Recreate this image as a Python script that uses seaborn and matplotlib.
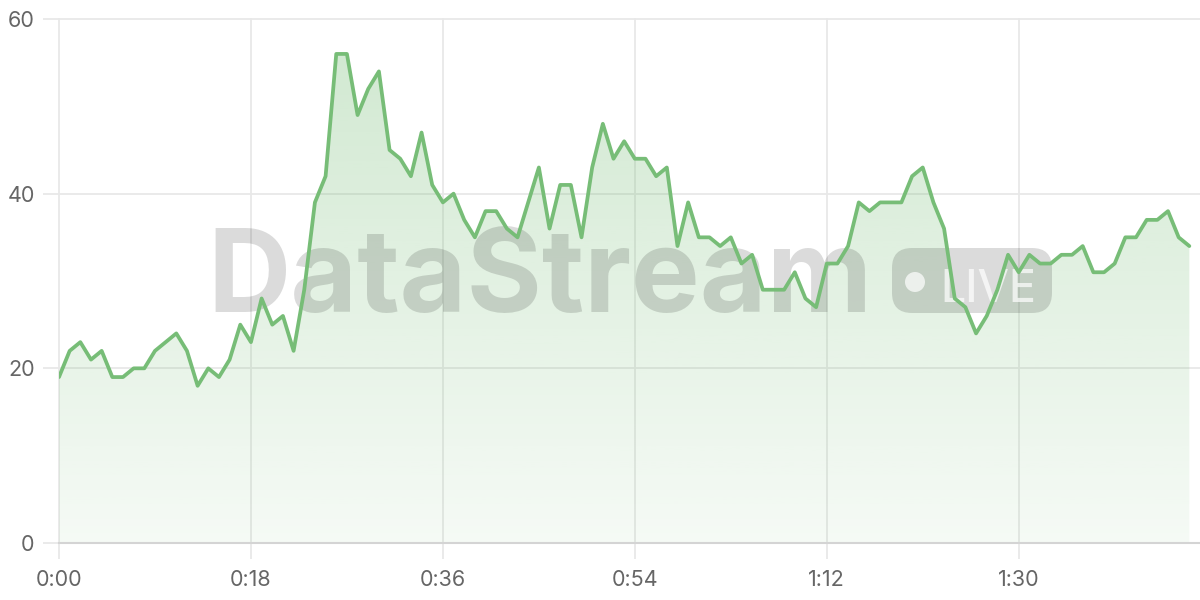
import numpy as np
import pandas as pd
import matplotlib.pyplot as plt
import seaborn as sns
from matplotlib.patches import FancyBboxPatch, Circle
from matplotlib.colors import to_rgb
from matplotlib.ticker import FuncFormatter

# viewers per second of the stream
seconds = list(range(107))
viewers = [19, 22, 23, 21, 22, 19, 19, 20, 20, 22,
           23, 24, 22, 18, 20, 19, 21, 25, 23, 28,
           25, 26, 22, 29, 39, 42, 56, 56, 49, 52,
           54, 45, 44, 42, 47, 41, 39, 40, 37, 35,
           38, 38, 36, 35, 39, 43, 36, 41, 41, 35,
           43, 48, 44, 46, 44, 44, 42, 43, 34, 39,
           35, 35, 34, 35, 32, 33, 29, 29, 29, 31,
           28, 27, 32, 32, 34, 39, 38, 39, 39, 39,
           42, 43, 39, 36, 28, 27, 24, 26, 29, 33,
           31, 33, 32, 32, 33, 33, 34, 31, 31, 32,
           35, 35, 37, 37, 38, 35, 34]
x_ticks = [0, 18, 36, 54, 72, 90]
y_ticks = [0, 20, 40, 60]

df = pd.DataFrame({'sec': seconds, 'viewers': viewers})
green = '#77bd77'

sns.set_theme(style='white')
plt.rcParams['font.family'] = ['Inter', 'DejaVu Sans']

fig = plt.figure(figsize=(12, 6), dpi=100)
ax = fig.add_axes([59/1200, 57/600, 1141/1200, 524/600])

# gradient area under the line
area = ax.fill_between(df.sec, df.viewers, 0, color='none', lw=0)
rgba = np.zeros((256, 1, 4))
rgba[..., :3] = to_rgb(green)
rgba[..., 3] = np.linspace(0.35, 0.07, 256).reshape(-1, 1)
img = ax.imshow(rgba, extent=[0, 107, 0, 60], aspect='auto', origin='upper', zorder=1)
img.set_clip_path(area.get_paths()[0], transform=ax.transData)

sns.lineplot(data=df, x='sec', y='viewers', color=green, lw=2.7, ax=ax, zorder=3)

# watermark
ax.text(2.07, 6 - 3.12, 'DataStream', transform=fig.dpi_scale_trans,
        fontsize=83, fontweight='bold', color='black', alpha=0.14,
        ha='left', va='baseline', zorder=2)
badge = FancyBboxPatch((8.92, 2.87), 1.6, 0.65, boxstyle='round,pad=0,rounding_size=0.2',
                       transform=fig.dpi_scale_trans, facecolor='black', alpha=0.14,
                       lw=0, zorder=2)
ax.add_patch(badge)
ax.add_patch(Circle((9.15, 3.18), 0.10, transform=fig.dpi_scale_trans,
                    facecolor='white', alpha=0.7, lw=0, zorder=2.1))
ax.text(9.40, 2.98, 'LIVE', transform=fig.dpi_scale_trans, fontsize=32,
        fontweight='medium', color='white', alpha=0.7, ha='left', va='baseline', zorder=2.1)

ax.set_xlim(0, 107)
ax.set_ylim(0, 60)
ax.set_xticks(x_ticks)
ax.set_yticks(y_ticks)
ax.xaxis.set_major_formatter(FuncFormatter(lambda v, p: f'{int(v)//60}:{int(v)%60:02d}'))
ax.set_xlabel('')
ax.set_ylabel('')

ax.grid(True, color='#e8e8e8', lw=1.3)
ax.set_axisbelow(True)
for gl in ax.get_ygridlines() + ax.get_xgridlines():
    gl.set_clip_on(False)
for s in ['top', 'right', 'left']:
    ax.spines[s].set_visible(False)
ax.spines['bottom'].set_color('#d4d4d4')
ax.spines['bottom'].set_linewidth(1.5)
ax.tick_params(axis='both', bottom=True, left=True, length=11.5, width=1.3,
               color='#e8e8e8', labelcolor='#666666', labelsize=15.5, pad=6)
ax.tick_params(axis='x', pad=8)

fig.savefig('out.png', dpi=100)
